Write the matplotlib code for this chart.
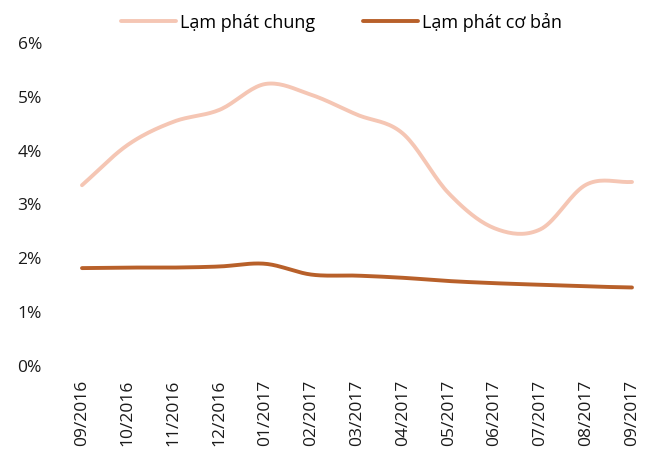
import numpy as np
import matplotlib
matplotlib.use("Agg")
import matplotlib.pyplot as plt

months = ["09/2016", "10/2016", "11/2016", "12/2016", "01/2017", "02/2017", "03/2017",
          "04/2017", "05/2017", "06/2017", "07/2017", "08/2017", "09/2017"]
headline = [3.34, 4.09, 4.52, 4.74, 5.22, 5.02, 4.65, 4.30, 3.19, 2.54, 2.52, 3.35, 3.40]
core = [1.80, 1.81, 1.81, 1.83, 1.88, 1.68, 1.66, 1.62, 1.56, 1.52, 1.49, 1.46, 1.44]
yticks = [0, 1, 2, 3, 4, 5, 6]
series_names = ["Lạm phát chung", "Lạm phát cơ bản"]

plt.rcParams['font.family'] = ['Open Sans', 'DejaVu Sans']


def smooth(xs, ys, n=20):
    """Catmull-Rom rendering of the polyline (like Excel's smoothed line)."""
    xs = np.asarray(xs, float)
    ys = np.asarray(ys, float)
    px = np.concatenate([[2 * xs[0] - xs[1]], xs, [2 * xs[-1] - xs[-2]]])
    py = np.concatenate([[2 * ys[0] - ys[1]], ys, [2 * ys[-1] - ys[-2]]])
    ox, oy = [], []
    t = np.linspace(0, 1, n, endpoint=False)
    for i in range(1, len(px) - 2):
        for P, O in ((px, ox), (py, oy)):
            p0, p1, p2, p3 = P[i - 1], P[i], P[i + 1], P[i + 2]
            O.extend(0.5 * ((2 * p1) + (-p0 + p2) * t + (2 * p0 - 5 * p1 + 4 * p2 - p3) * t ** 2
                            + (-p0 + 3 * p1 - 3 * p2 + p3) * t ** 3))
    ox.append(xs[-1])
    oy.append(ys[-1])
    return np.array(ox), np.array(oy)


W, H = 652, 452
PX = 100 / 72  # pixels per point
fig = plt.figure(figsize=(W / 100, H / 100), dpi=100)
# x: 0 -> px 82, 12 -> px 632 ; y: 0 -> px 366, 6 -> px 43
xpad = 0.4
upx = (632 - 82) / 12
left = 82 - xpad * upx
right = 632 + xpad * upx
ax = fig.add_axes([left / W, (H - 366) / H, (right - left) / W, (366 - 43) / H])

x = np.arange(len(months))
sx, sy = smooth(x, headline)
ax.plot(sx, sy, color="#F5C6B4", lw=2.8, solid_capstyle="round", label=series_names[0])
sx, sy = smooth(x, core)
ax.plot(sx, sy, color="#B8602A", lw=2.8, solid_capstyle="round", label=series_names[1])

ax.set_xlim(-xpad, 12 + xpad)
ax.set_ylim(0, 6)
ax.set_yticks(yticks)
ax.set_yticklabels([f"{v}%" for v in yticks], fontsize=12.5, color="#1a1a1a")
ax.set_xticks(x)
ax.set_xticklabels(months, rotation=90, fontsize=12.5, color="#1a1a1a")
ax.tick_params(axis="both", length=0)
ax.tick_params(axis="y", pad=(left - 42) / PX)
ax.tick_params(axis="x", pad=14 / PX)
for s in ax.spines.values():
    s.set_visible(False)

fig.legend(loc="center", bbox_to_anchor=(341.5 / W, 1 - 22.5 / H), ncol=2, frameon=False,
           fontsize=13, handlelength=3.05, columnspacing=2.6, handletextpad=0.22)

fig.savefig("out.png", dpi=100, facecolor="white")
